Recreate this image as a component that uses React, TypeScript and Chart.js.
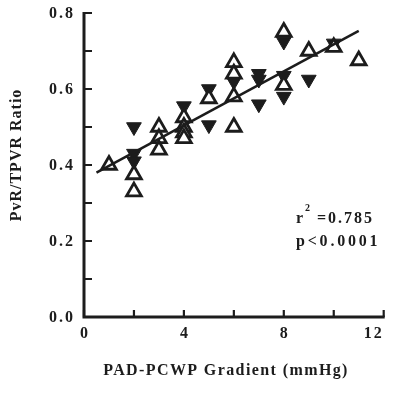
import { useEffect, useRef } from "react";
import { Chart, registerables } from "chart.js";

Chart.register(...registerables);

const openX = [1, 2, 2, 3, 3, 3, 4, 4, 4, 4, 5, 6, 6, 6, 6, 8, 8, 9, 10, 11];
const openY = [0.40, 0.375, 0.33, 0.50, 0.47, 0.44, 0.525, 0.50, 0.485, 0.47, 0.575, 0.67, 0.64, 0.58, 0.50, 0.75, 0.61, 0.70, 0.71, 0.675];

const filledX = [2, 2, 2, 4, 5, 5, 6, 7, 7, 7, 8, 8, 8, 9, 10];
const filledY = [0.50, 0.43, 0.41, 0.555, 0.60, 0.505, 0.62, 0.64, 0.625, 0.56, 0.725, 0.635, 0.58, 0.625, 0.72];

const fitX = [0.5, 11];
const fitY = [0.38, 0.753];

const xTickValues = [0, 2, 4, 6, 8, 10, 12];
const xTickLabels = ["0", "", "4", "", "8", "", "12"];
const yTickValues = [0, 0.1, 0.2, 0.3, 0.4, 0.5, 0.6, 0.7, 0.8];
const yTickLabels = ["0.0", "", "0.2", "", "0.4", "", "0.6", "", "0.8"];

const xTitle = "PAD-PCWP Gradient (mmHg)";
const yTitle = "PvR/TPVR Ratio";
const statR = "=0.785";
const statP = "p<0.0001";

const INK = "#1c1c1c";
const FONT = '"Liberation Serif", "DejaVu Serif", serif';

const toPts = (xs: number[], ys: number[]) => xs.map((x, i) => ({ x, y: ys[i] }));

const decorPlugin = {
  id: "decor",
  afterDraw(chart: any) {
    const ctx = chart.ctx as CanvasRenderingContext2D;
    const xs = chart.scales.x;
    const ys = chart.scales.y;
    const left = xs.getPixelForValue(xTickValues[0]);
    const right = xs.getPixelForValue(xTickValues[xTickValues.length - 1]);
    const bottom = ys.getPixelForValue(yTickValues[0]);
    const top = ys.getPixelForValue(yTickValues[yTickValues.length - 1]);
    ctx.save();
    ctx.strokeStyle = INK;
    ctx.fillStyle = INK;
    ctx.lineWidth = 3;
    ctx.lineCap = "butt";
    ctx.beginPath();
    ctx.moveTo(left, top - 1);
    ctx.lineTo(left, bottom);
    ctx.lineTo(right + 1, bottom);
    ctx.stroke();
    ctx.lineWidth = 2.2;
    ctx.beginPath();
    yTickValues.forEach((v) => {
      const y = ys.getPixelForValue(v);
      ctx.moveTo(left, y);
      ctx.lineTo(left + 8, y);
    });
    xTickValues.forEach((v) => {
      const x = xs.getPixelForValue(v);
      ctx.moveTo(x, bottom);
      ctx.lineTo(x, bottom - 7);
    });
    ctx.stroke();

    (ctx as any).letterSpacing = "2px";
    ctx.font = `bold 16px ${FONT}`;
    ctx.textBaseline = "middle";
    ctx.textAlign = "right";
    yTickValues.forEach((v, i) => {
      if (!yTickLabels[i]) return;
      ctx.fillText(yTickLabels[i], 75, ys.getPixelForValue(v) + 1);
    });
    xTickValues.forEach((v, i) => {
      if (!xTickLabels[i]) return;
      const x = xs.getPixelForValue(v);
      if (i === xTickValues.length - 1) {
        ctx.textAlign = "right";
        ctx.fillText(xTickLabels[i], x, 334);
      } else {
        ctx.textAlign = "center";
        ctx.fillText(xTickLabels[i], x + 1, 334);
      }
    });

    // stats
    ctx.textAlign = "left";
    ctx.textBaseline = "alphabetic";
    (ctx as any).letterSpacing = "0px";
    ctx.fillText("r", 296, 223);
    ctx.font = `bold 10px ${FONT}`;
    ctx.fillText("2", 305, 211);
    ctx.font = `bold 16px ${FONT}`;
    (ctx as any).letterSpacing = "2px";
    ctx.fillText(statR, 317, 223);
    (ctx as any).letterSpacing = "2.8px";
    ctx.fillText(statP, 296, 246);

    // axis titles
    ctx.textAlign = "center";
    ctx.textBaseline = "middle";
    (ctx as any).letterSpacing = "1.4px";
    ctx.fillText(xTitle, 226, 371);
    ctx.save();
    ctx.translate(17, 155);
    ctx.rotate(-Math.PI / 2);
    (ctx as any).letterSpacing = "1px";
    ctx.fillText(yTitle, 0, 0);
    ctx.restore();
    ctx.restore();
  },
};

export default function App() {
  const ref = useRef<HTMLCanvasElement | null>(null);
  useEffect(() => {
    if (!ref.current) return;
    const chart = new Chart(ref.current, {
      type: "scatter",
      data: {
        datasets: [
          {
            type: "line",
            data: toPts(fitX, fitY),
            borderColor: INK,
            borderWidth: 2.5,
            pointRadius: 0,
            fill: false,
            order: 0,
            clip: false,
          } as any,
          {
            data: toPts(openX, openY),
            pointStyle: "triangle",
            pointRadius: 8.5,
            pointBorderWidth: 2.8,
            borderColor: INK,
            backgroundColor: "#ffffff",
            order: 1,
            clip: false,
          } as any,
          {
            data: toPts(filledX, filledY),
            pointStyle: "triangle",
            rotation: 180,
            pointRadius: 8.5,
            pointBorderWidth: 1,
            borderColor: INK,
            backgroundColor: INK,
            order: 2,
            clip: false,
          } as any,
        ],
      },
      options: {
        responsive: false,
        animation: false,
        layout: { padding: { left: 84, top: 13, right: 8, bottom: 79 } },
        plugins: { legend: { display: false }, tooltip: { enabled: false } },
        scales: {
          x: { type: "linear", min: 0, max: 12, display: false },
          y: { type: "linear", min: 0, max: 0.8, display: false },
        },
      },
      plugins: [decorPlugin],
    });
    return () => chart.destroy();
  }, []);
  return (
    <div style={{ position: "fixed", left: 0, top: 0, width: 395, height: 396, background: "#fff" }}>
      <canvas ref={ref} width={395} height={396} />
    </div>
  );
}
